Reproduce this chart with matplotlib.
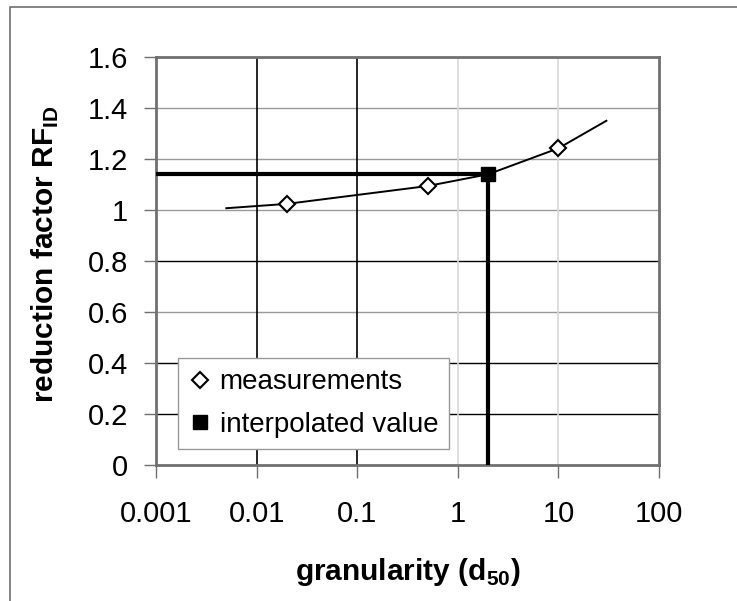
import numpy as np
import matplotlib
matplotlib.use('Agg')
import matplotlib.pyplot as plt
from matplotlib.lines import Line2D

plt.rcParams['font.family'] = ['Liberation Sans', 'DejaVu Sans']
plt.rcParams['mathtext.fontset'] = 'custom'
plt.rcParams['mathtext.rm'] = 'Liberation Sans'
plt.rcParams['mathtext.bf'] = 'Liberation Sans:bold'

# curve through the measurements
curve_x = [0.005, 0.02, 0.5, 2, 10, 30]
curve_y = [1.007, 1.024, 1.094, 1.14, 1.242, 1.35]
# measured points
meas_x = [0.02, 0.5, 10]
meas_y = [1.024, 1.094, 1.242]
# interpolated value
interp_x = 2
interp_y = 1.14

y_ticks = [0, 0.2, 0.4, 0.6, 0.8, 1, 1.2, 1.4, 1.6]
x_ticks = [0.001, 0.01, 0.1, 1, 10, 100]
x_labels = ['0.001', '0.01', '0.1', '1', '10', '100']
y_labels = ['0', '0.2', '0.4', '0.6', '0.8', '1', '1.2', '1.4', '1.6']

fig = plt.figure(figsize=(7.37, 6.01), dpi=100)
ax = fig.add_axes([156/737, 1-465/601, 503/737, 408/601])

# outer border (only top/left visible in the picture)
fig.add_artist(plt.Rectangle((10/737, -0.05), 1.2, (601-7)/601+0.05, transform=fig.transFigure,
                             fill=False, ec='#707070', lw=1.2))

ax.set_xscale('log')
ax.set_xlim(0.001, 100)
ax.set_ylim(0, 1.6)

#gridlines, colours as they came out in the original
h_cols = {0.2: 'black', 0.4: 'black', 0.6: '#999999', 0.8: 'black', 1: '#999999', 1.2: '#999999', 1.4: '#999999'}
for yv, col in h_cols.items():
    ax.axhline(yv, color=col, lw=1, zorder=1)
v_cols = {0.01: 'black', 0.1: 'black', 1: '#d8d8d8', 10: '#d8d8d8'}
for xv, col in v_cols.items():
    ax.axvline(xv, color=col, lw=1.2, zorder=1)

ax.plot(curve_x, curve_y, color='black', lw=1.4, zorder=3)
ax.plot([0.001, interp_x], [interp_y, interp_y], color='black', lw=3, zorder=4, solid_capstyle='butt')
ax.plot([interp_x, interp_x], [0, interp_y], color='black', lw=3, zorder=4, solid_capstyle='butt')
ax.plot(meas_x, meas_y, ls='none', marker='D', ms=8.5, mfc='white', mec='black', mew=1.5, zorder=5)
ax.plot([interp_x], [interp_y], ls='none', marker='s', ms=10, color='black', zorder=6)

ax.set_xticks(x_ticks)
ax.set_xticklabels(x_labels)
ax.set_yticks(y_ticks)
ax.set_yticklabels(y_labels)
ax.minorticks_off()
ax.tick_params(axis='both', labelsize=21, color='#707070', width=1, length=9)
ax.tick_params(axis='x', pad=16)
ax.tick_params(axis='y', pad=11)
for s in ax.spines.values():
    s.set_color('#707070')
    s.set_linewidth(2)

ax.set_xlabel(r'granularity (d$_{\mathbf{50}}$)', fontsize=21.5, fontweight='bold')
ax.xaxis.label.set_va('center')
ax.xaxis.set_label_coords(0.5, -0.262)
ax.set_ylabel(r'reduction factor RF$_{\mathbf{ID}}$', fontsize=21.5, fontweight='bold')
ax.yaxis.label.set_va('center')
ax.yaxis.set_label_coords(-0.219, 0.517)

handles = [Line2D([], [], ls='none', marker='D', ms=8.5, mfc='white', mec='black', mew=1.5),
           Line2D([], [], ls='none', marker='s', ms=10, color='black')]
leg = ax.legend(handles, ['measurements', 'interpolated value'], loc='lower left',
                bbox_to_anchor=(22/503, 16/408), fontsize=20, fancybox=False, framealpha=1,
                edgecolor='#999999', handletextpad=0.3, handlelength=0.8, borderpad=0.4,
                labelspacing=0.6, borderaxespad=0)
leg.get_frame().set_linewidth(1)
leg.set_zorder(10)

fig.savefig('out.png', dpi=100)
